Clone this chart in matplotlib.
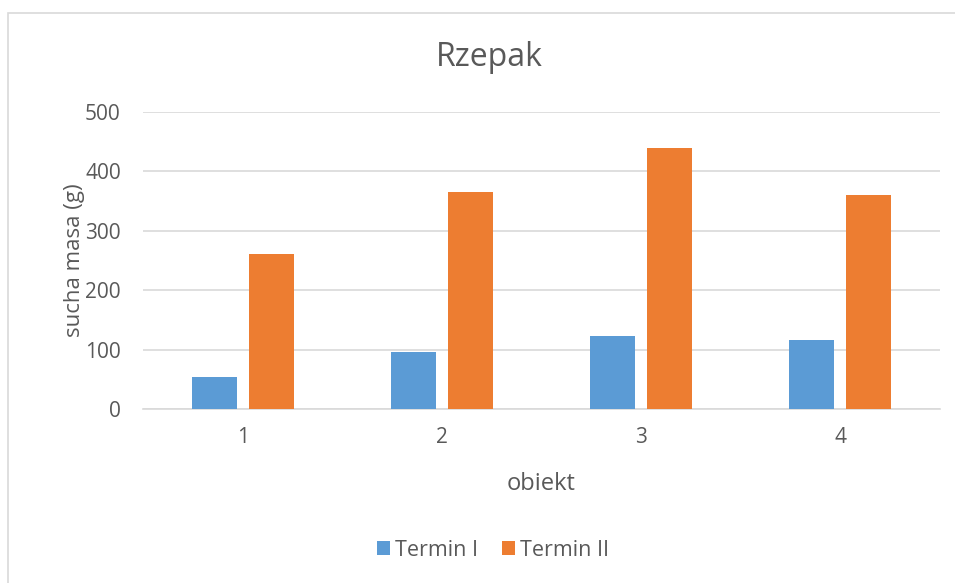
import matplotlib
matplotlib.use("Agg")
from matplotlib import pyplot as plt
from matplotlib.patches import Rectangle
import numpy as np

# data
obiekt = [1, 2, 3, 4]
termin_1 = [55, 96, 123, 116]
termin_2 = [262, 366, 440, 361]
series_names = ["Termin I", "Termin II"]

plt.rcParams['font.family'] = ['Open Sans', 'DejaVu Sans']
gray = "#595959"

fig = plt.figure(figsize=(9.55, 5.83), dpi=100)
ax = fig.add_axes([143 / 955, 1 - 409.3 / 583, 797 / 955, 297.3 / 583])

x = np.array(obiekt)
ax.bar(x - 0.143, termin_1, width=0.225, color="#5B9BD5", label=series_names[0], zorder=3)
ax.bar(x + 0.143, termin_2, width=0.225, color="#ED7D31", label=series_names[1], zorder=3)

ax.set_xlim(0.5, 4.5)
ax.set_ylim(0, 500)
ax.set_yticks(range(0, 501, 100))
ax.set_xticks(obiekt)
ax.yaxis.grid(True, color="#d9d9d9", linewidth=1.2, zorder=0)
for s in ["top", "right", "left"]:
    ax.spines[s].set_visible(False)
ax.spines["bottom"].set_color("#d9d9d9")
ax.spines["bottom"].set_linewidth(1.2)
ax.tick_params(length=0, labelsize=15, colors=gray)
ax.tick_params(axis="y", pad=16)
ax.tick_params(axis="x", pad=13)

fig.text(489 / 955, 1 - 58 / 583, "Rzepak", fontsize=23, color=gray, ha="center", va="center")
ax.set_xlabel("obiekt", fontsize=17, color=gray, labelpad=17)
ax.set_ylabel("sucha masa (g)", fontsize=16, color=gray, labelpad=0)

leg = fig.legend(loc="center", bbox_to_anchor=(493 / 955, 1 - 550 / 583), ncol=2,
                 frameon=False, fontsize=15.5, handlelength=0.6, handleheight=0.6,
                 handletextpad=0.25, columnspacing=1.1)
for t in leg.get_texts():
    t.set_color(gray)

# chart frame: only its top and left edges fall inside the picture
fig.patches.append(Rectangle((8 / 955, -0.5), 2, 0.5 + 570 / 583, transform=fig.transFigure,
                             fill=False, edgecolor="#d9d9d9", linewidth=1.2))

fig.savefig("out.png", dpi=100)
